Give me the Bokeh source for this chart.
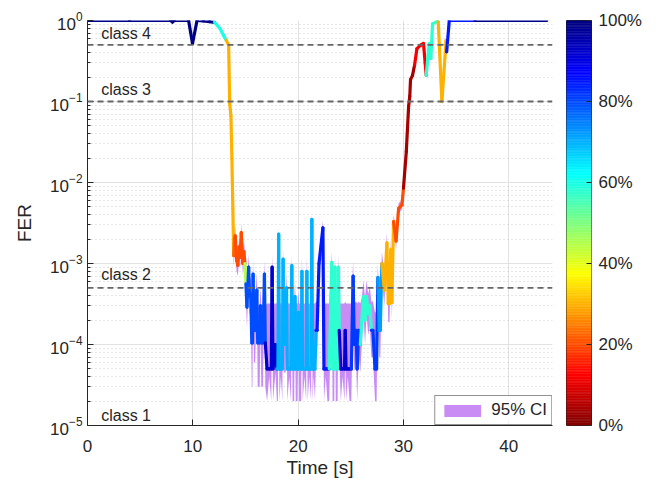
from bokeh.plotting import figure
from bokeh.layouts import row
from bokeh.models import (ColumnDataSource, Range1d, FixedTicker, Span,
                          LinearColorMapper, PrintfTickFormatter, Legend, LegendItem, Label)
from bokeh.embed import file_html
from bokeh.resources import INLINE

# ---------------- data ----------------
# before the outage
pre_time = [0.0, 4.0, 7.9, 8.07, 8.25, 9.6, 9.97, 10.4, 11.0, 11.6,
            12.05, 12.6, 12.9, 13.17, 13.4, 13.5, 13.62, 13.71]
pre_fer = [1.0, 1.0, 1.0, 0.96, 1.0, 1.0, 0.52, 1.0, 0.99, 0.97,
           0.95, 0.79, 0.66, 0.57, 0.50, 0.096, 0.066, 0.0196]
pre_pct = [99, 99, 99, 99, 99, 99, 99, 99, 99, 99,
           60, 60, 60, 30, 30, 30, 30, 30]

# low-FER part (with 95% CI)
mid_time = [
    13.8, 13.88, 13.96, 14.03, 14.15, 14.28, 14.4, 14.5, 14.6, 14.75,
    14.85, 14.95, 15.04, 15.14, 15.3, 15.38, 15.5, 15.6, 15.66, 15.72,
    15.8, 15.92, 16.0, 16.08, 16.16, 16.35, 16.42, 16.5, 16.66, 16.74,
    16.8, 16.88, 17.05, 17.25, 17.45, 17.53, 17.61, 17.85, 17.98, 18.08,
    18.15, 18.22, 18.36, 18.5, 18.57, 18.64, 18.82, 18.9, 18.97, 19.15,
    19.32, 19.4, 19.47, 19.62, 19.7, 19.77, 19.95, 20.02, 20.09, 20.29,
    20.36, 20.43, 20.6, 20.76, 20.83, 20.9, 21.06, 21.23, 21.3, 21.37,
    21.48, 21.6, 21.7, 21.8, 21.98, 22.35, 22.45, 22.62, 22.78, 22.95,
    23.2, 23.27, 23.43, 23.5, 23.57, 23.75, 23.83, 23.9, 24.05, 24.22,
    24.4, 24.47, 24.55, 24.72, 24.88, 25.05, 25.22, 25.32, 25.5, 25.6,
    25.75, 25.9, 26.05, 26.2, 26.35, 26.5, 26.65, 26.8, 26.95, 27.1,
    27.3, 27.45, 27.57, 27.7, 27.8, 27.95, 28.18, 28.43, 28.55, 28.68,
    28.8, 28.9, 29.06, 29.3, 29.54, 29.86,
]
mid_fer = [
    4.8e-3, 1.25e-3, 2.0e-3, 2.2e-3, 1.1e-3, 9.5e-4, 1.6e-3, 1.2e-3, 2.4e-3, 1.0e-3,
    1.4e-3, 1.0e-3, 5.6e-4, 2.9e-4, 9e-4, 4e-4, 4.2e-4, 1.05e-4, 1.05e-4, 7.4e-4,
    1.5e-4, 1.5e-4, 3e-4, 4.7e-4, 1.05e-4, 1.05e-4, 3e-4, 1.05e-4, 1.05e-4, 3e-4,
    7.4e-4, 1.05e-4, 5e-5, 5e-5, 5e-5, 9e-4, 5e-5, 1e-4, 5e-5, 5e-5,
    2.3e-3, 5e-5, 5e-5, 5e-5, 1.13e-3, 1e-4, 1e-4, 5e-4, 5e-5, 5e-5,
    5e-5, 9.4e-4, 5e-5, 5e-5, 3.9e-4, 5e-5, 5e-5, 2.5e-4, 5e-5, 5e-5,
    8e-4, 5e-5, 5e-5, 5e-5, 8e-4, 5e-5, 5e-5, 5e-5, 3.5e-3, 5e-5,
    5e-5, 5e-5, 1.5e-4, 1.5e-4, 1e-3, 2.75e-3, 5e-5, 5e-5, 5e-5, 5e-5,
    1.03e-3, 5e-5, 5e-5, 9e-4, 5e-5, 5e-5, 9e-4, 1.5e-4, 5e-5, 5e-5,
    5e-5, 1.5e-4, 5e-5, 5e-5, 5e-5, 5e-5, 7e-4, 1e-4, 1.5e-4, 5e-5,
    1.5e-4, 1e-4, 2e-4, 3.9e-4, 2e-4, 3.9e-4, 2.4e-4, 3e-4, 1.5e-4, 1.5e-4,
    5e-5, 5e-5, 6.7e-4, 1.5e-4, 1.5e-4, 1e-3, 4.7e-4, 1.8e-3, 3.2e-4, 3.2e-4,
    1.5e-3, 3.3e-4, 3.3e-3, 1.9e-3, 4.8e-3, 5.3e-3,
]
mid_pct = [
    30, 22, 20, 20, 20, 20, 20, 20, 20, 20,
    20, 45, 80, 80, 80, 80, 80, 80, 80, 80,
    80, 80, 80, 80, 80, 80, 80, 80, 80, 80,
    80, 92, 92, 92, 92, 92, 92, 92, 70, 70,
    70, 70, 70, 70, 70, 70, 70, 70, 70, 70,
    70, 70, 70, 70, 70, 70, 70, 70, 70, 70,
    70, 70, 70, 70, 70, 70, 70, 70, 70, 70,
    70, 70, 85, 85, 85, 85, 85, 85, 85, 58,
    58, 58, 58, 58, 58, 58, 58, 92, 92, 92,
    92, 92, 92, 92, 92, 82, 82, 82, 82, 82,
    82, 58, 58, 58, 58, 58, 58, 58, 82, 82,
    82, 82, 72, 72, 72, 30, 30, 30, 30, 30,
    30, 30, 20, 20, 20, 20,
]
ci_low = [
    4.2e-3, 9e-4, 1.5e-3, 1.7e-3, 8e-4, 7e-4, 1.2e-3, 9e-4, 1.9e-3, 7.2e-4,
    1e-3, 7e-4, 3.6e-4, 1.6e-4, 6.2e-4, 2.4e-4, 2.5e-4, 3e-5, 3e-5, 5e-4,
    6e-5, 6e-5, 1.7e-4, 2.9e-4, 3e-5, 3e-5, 1.7e-4, 3e-5, 3e-5, 1.7e-4,
    5e-4, 3e-5, 2e-5, 4e-5, 2e-5, 6e-4, 2e-5, 4.5e-5, 2e-5, 2e-5,
    1.8e-3, 2e-5, 4e-5, 2e-5, 8e-4, 4.5e-5, 4.5e-5, 3e-4, 2e-5, 4e-5,
    2e-5, 6.5e-4, 2e-5, 2e-5, 2.3e-4, 2e-5, 2e-5, 1.4e-4, 2e-5, 2e-5,
    5.5e-4, 2e-5, 4e-5, 2e-5, 5.5e-4, 2e-5, 4e-5, 2e-5, 2.9e-3, 2e-5,
    4e-5, 2e-5, 7e-5, 7e-5, 7e-4, 2.2e-3, 2e-5, 4e-5, 2e-5, 2e-5,
    7.2e-4, 2e-5, 2e-5, 6.2e-4, 2e-5, 2e-5, 6.2e-4, 7e-5, 2e-5, 4e-5,
    2e-5, 7e-5, 2e-5, 4e-5, 2e-5, 2e-5, 4.7e-4, 4.5e-5, 7e-5, 2e-5,
    7e-5, 4.5e-5, 1e-4, 2.3e-4, 1e-4, 2.3e-4, 1.3e-4, 1.7e-4, 7e-5, 7e-5,
    2e-5, 2e-5, 4.5e-4, 7e-5, 7e-5, 7e-4, 3e-4, 1.4e-3, 1.9e-4, 1.9e-4,
    1.1e-3, 2e-4, 2.7e-3, 1.5e-3, 4.1e-3, 4.7e-3,
]
ci_high = [
    5.5e-3, 1.7e-3, 2.6e-3, 2.9e-3, 1.5e-3, 1.3e-3, 2.1e-3, 1.6e-3, 3.1e-3, 1.4e-3,
    1.9e-3, 1.4e-3, 8.5e-4, 5e-4, 1.3e-3, 6.5e-4, 6.8e-4, 3e-4, 3e-4, 1.1e-3,
    3.2e-4, 3.2e-4, 5.2e-4, 7.5e-4, 3e-4, 3e-4, 5.2e-4, 3e-4, 3e-4, 5.2e-4,
    1.1e-3, 3e-4, 3.2e-4, 3.2e-4, 3.2e-4, 1.3e-3, 3.2e-4, 3.2e-4, 3.2e-4, 3.2e-4,
    3e-3, 3.2e-4, 3.2e-4, 3.2e-4, 1.6e-3, 3.2e-4, 3.2e-4, 8e-4, 3.2e-4, 3.2e-4,
    3.2e-4, 1.3e-3, 3.2e-4, 3.2e-4, 6.2e-4, 3.2e-4, 3.2e-4, 4.5e-4, 3.2e-4, 3.2e-4,
    1.2e-3, 3.2e-4, 3.2e-4, 3.2e-4, 1.2e-3, 3.2e-4, 3.2e-4, 3.2e-4, 4.3e-3, 3.2e-4,
    3.2e-4, 3.2e-4, 3.4e-4, 3.4e-4, 1.4e-3, 3.4e-3, 3.2e-4, 3.2e-4, 3.2e-4, 3.2e-4,
    1.4e-3, 3.2e-4, 3.2e-4, 1.3e-3, 3.2e-4, 3.2e-4, 1.3e-3, 3.4e-4, 3.2e-4, 3.2e-4,
    3.2e-4, 3.4e-4, 3.2e-4, 3.2e-4, 3.2e-4, 3.2e-4, 1.05e-3, 3.2e-4, 3.4e-4, 3.2e-4,
    3.4e-4, 3.2e-4, 3.8e-4, 6.2e-4, 3.8e-4, 6.2e-4, 4.2e-4, 5.2e-4, 3.4e-4, 3.4e-4,
    2.5e-4, 2.5e-4, 1e-3, 3e-4, 3e-4, 1.4e-3, 7.5e-4, 2.4e-3, 5.2e-4, 5.2e-4,
    2e-3, 5.5e-4, 4e-3, 2.5e-3, 5.6e-3, 6e-3,
]

# recovery
post_time = [30.0, 30.27, 30.49, 30.6, 30.67, 30.86, 31.05, 31.28, 31.66, 31.9,
             32.06, 32.16, 32.3, 32.45, 32.6, 32.76, 33.18, 33.3, 33.65, 34.05,
             34.1, 34.35, 36.8, 43.6]
post_fer = [0.0085, 0.024, 0.088, 0.116, 0.186, 0.21, 0.28, 0.45, 0.5, 0.52,
            0.30, 0.21, 0.33, 0.52, 0.34, 0.91, 0.97, 0.97, 0.10, 0.57,
            0.41, 1.0, 1.0, 1.0]
post_pct = [4, 4, 4, 4, 4, 4, 12, 12, 12, 12,
            12, 58, 58, 58, 58, 58, 58, 30, 30, 30,
            85, 85, 99, 99]

class_thresholds = [0.5, 0.1, 5e-4]
class_names = ["class 4", "class 3", "class 2", "class 1"]
class_label_fer = [0.695, 0.14, 7.4e-4, 1.33e-5]
class_label_time = 1.3

x_ticks = [0, 10, 20, 30, 40]
y_ticks = [1e-5, 1e-4, 1e-3, 1e-2, 1e-1, 1.0]
cbar_ticks = [0, 20, 40, 60, 80, 100]

# ---------------- assemble ----------------
nm = min(len(mid_time), len(mid_fer), len(mid_pct))
nc = min(len(mid_time), len(ci_low), len(ci_high))
time_s = pre_time + mid_time[:nm] + post_time
fer = pre_fer + mid_fer[:nm] + post_fer
quality_pct = pre_pct + mid_pct[:nm] + post_pct

# ---------------- styling ----------------
FONT = "Liberation Sans"
TXT = "#262626"
CI_COLOR = "#c98cf5"
TOP, BOTTOM = 20, 50
H = 480


def jet(x):
    def c(v):
        return min(max(v, 0.0), 1.0)
    r = c(1.5 - abs(4 * x - 3))
    g = c(1.5 - abs(4 * x - 2))
    b = c(1.5 - abs(4 * x - 1))
    return "#%02x%02x%02x" % (int(round(r * 255)), int(round(g * 255)), int(round(b * 255)))


jet_r = [jet(1 - i / 255.0) for i in range(256)]
mapper = LinearColorMapper(palette=jet_r, low=0, high=100)

p = figure(width=556, height=H, y_axis_type="log",
           x_range=Range1d(0, 44.15), y_range=Range1d(1e-5, 1.0),
           output_backend="svg", toolbar_location=None,
           min_border_left=87, min_border_right=4, min_border_top=TOP, min_border_bottom=BOTTOM)
p.outline_line_color = None

# CI band
ci_r = p.varea(x=mid_time[:nc], y1=ci_low[:nc], y2=ci_high[:nc],
               fill_color=CI_COLOR, fill_alpha=1.0)

# colored line
src = ColumnDataSource(dict(x0=time_s[:-1], y0=fer[:-1], x1=time_s[1:], y1=fer[1:],
                            q=quality_pct[:-1]))
p.segment("x0", "y0", "x1", "y1", source=src,
          line_color={"field": "q", "transform": mapper},
          line_width=3.2, line_cap="round")

# class thresholds
for thr in class_thresholds:
    p.add_layout(Span(location=thr, dimension="width", line_color="#666666",
                      line_dash="6 4", line_width=1.8))
for name, yv in zip(class_names, class_label_fer):
    p.add_layout(Label(x=class_label_time, y=yv, text=name, text_baseline="middle",
                       text_align="left", text_font=FONT, text_font_size="16px",
                       text_color=TXT))

# axes
minor = []
for e in range(-5, 0):
    for k in range(2, 10):
        minor.append(k * 10.0 ** e)
p.xaxis.ticker = FixedTicker(ticks=x_ticks)
p.yaxis.ticker = FixedTicker(ticks=y_ticks, minor_ticks=minor)
p.xaxis.axis_label = "Time [s]"
p.yaxis.axis_label = "FER"
for ax in (p.xaxis, p.yaxis):
    ax.axis_line_color = TXT
    ax.major_tick_line_color = TXT
    ax.minor_tick_line_color = TXT
    ax.major_tick_in = 6
    ax.major_tick_out = 0
    ax.minor_tick_in = 3
    ax.minor_tick_out = 0
    ax.major_label_text_font = FONT
    ax.major_label_text_font_size = "17px"
    ax.major_label_text_color = TXT
    ax.axis_label_text_font = FONT
    ax.axis_label_text_font_size = "19px"
    ax.axis_label_text_font_style = "normal"
    ax.axis_label_text_color = TXT
p.xaxis.major_label_standoff = 14
p.xaxis.axis_label_standoff = 2
p.yaxis.major_label_standoff = 5
p.yaxis.axis_label_standoff = 12

p.xgrid.grid_line_color = "#e2e2e2"
p.ygrid.grid_line_color = "#e2e2e2"
p.ygrid.minor_grid_line_color = "#cdcdcd"
p.ygrid.minor_grid_line_dash = "1 3"

# legend
leg = Legend(items=[LegendItem(label="95% CI", renderers=[ci_r])],
             location="bottom_right", margin=0, padding=4, spacing=0,
             glyph_width=46, glyph_height=15, label_height=15, label_standoff=6,
             label_text_font=FONT, label_text_font_size="17px", label_text_color=TXT,
             border_line_color=TXT, border_line_width=1, background_fill_color="white")
p.add_layout(leg)

# ---------------- colorbar as its own small figure ----------------
step = 100.0 / len(jet_r)
cb_src = ColumnDataSource(dict(
    bottom=[i * step for i in range(len(jet_r))],
    top=[(i + 1) * step for i in range(len(jet_r))],
    color=jet_r))
cbf = figure(width=100, height=H, x_range=Range1d(0, 1), y_range=Range1d(0, 100),
             output_backend="svg", toolbar_location=None,
             x_axis_location=None, y_axis_location="right",
             min_border_left=10, min_border_right=65, min_border_top=TOP,
             min_border_bottom=BOTTOM)
cbf.quad(left=0, right=1, bottom="bottom", top="top", source=cb_src,
         fill_color="color", line_color="color", line_width=0.5)
cbf.grid.visible = False
cbf.outline_line_color = TXT
cbf.outline_line_width = 1
ya = cbf.yaxis[0]
ya.ticker = FixedTicker(ticks=cbar_ticks)
ya.formatter = PrintfTickFormatter(format="%d%%")
ya.axis_line_color = None
ya.major_tick_line_color = TXT
ya.major_tick_in = 5
ya.major_tick_out = 0
ya.minor_tick_line_color = None
ya.major_label_standoff = 7
ya.major_label_text_font = FONT
ya.major_label_text_font_size = "17px"
ya.major_label_text_color = TXT

layout = row(p, cbf)
open("out.html", "w").write(file_html(layout, INLINE))
